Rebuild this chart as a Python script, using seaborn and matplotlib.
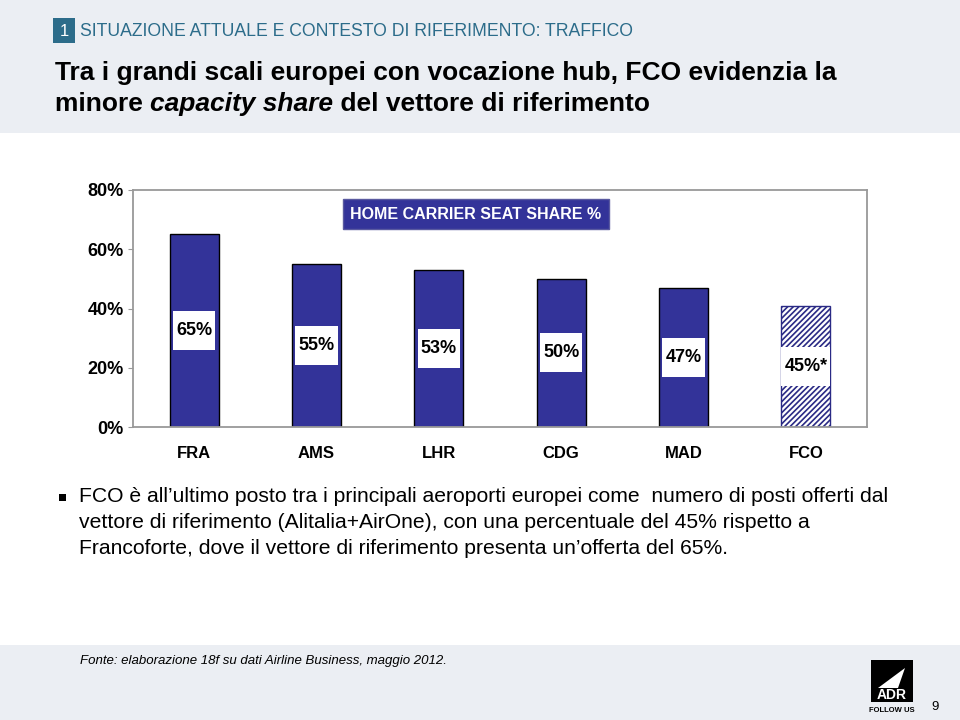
import numpy as np
import pandas as pd
import matplotlib.pyplot as plt
import seaborn as sns
from matplotlib.patches import Rectangle, Polygon

airports = ["FRA", "AMS", "LHR", "CDG", "MAD", "FCO"]
# bar heights (FCO bar is drawn shorter than its 45% label)
shares = [65, 55, 53, 50, 47, 41]
bar_labels = ["65%", "55%", "53%", "50%", "47%", "45%*"]
y_ticks = [0, 20, 40, 60, 80]
y_tick_labels = ["0%", "20%", "40%", "60%", "80%"]

blue = "#333399"
teal = "#2c6c8a"
band = "#ebeef3"

sns.set_style("white")
plt.rcParams["font.family"] = ["Liberation Sans", "DejaVu Sans"]
plt.rcParams["hatch.linewidth"] = 1.2
plt.rcParams["text.color"] = "black"
plt.rcParams["xtick.color"] = "black"
plt.rcParams["ytick.color"] = "black"

fig = plt.figure(figsize=(9.6, 7.2), dpi=100)
W, H = 960, 720

def fx(x):
    return x / W

def fy(y):
    return 1 - y / H

# header / footer bands
fig.patches.append(Rectangle((0, fy(133)), 1, 133 / H, transform=fig.transFigure,
                             facecolor=band, edgecolor="none", zorder=0))
fig.patches.append(Rectangle((0, 0), 1, 75 / H, transform=fig.transFigure,
                             facecolor=band, edgecolor="none", zorder=0))

# section number + section header
fig.patches.append(Rectangle((fx(53), fy(43)), 22 / W, 25 / H, transform=fig.transFigure,
                             facecolor=teal, edgecolor="none"))
fig.text(fx(64), fy(31), "1", color="white", fontsize=12, ha="center", va="center")
fig.text(fx(80), fy(31), "SITUAZIONE ATTUALE E CONTESTO DI RIFERIMENTO: TRAFFICO",
         color=teal, fontsize=12.7, ha="left", va="center")

# main title
fig.text(fx(55), fy(73), "Tra i grandi scali europei con vocazione hub, FCO evidenzia la",
         fontsize=19, fontweight="bold", ha="left", va="center")
renderer = fig.canvas.get_renderer()
x_cursor = fx(55)
for piece, style in [("minore ", "normal"), ("capacity share", "italic"),
                     (" del vettore di riferimento", "normal")]:
    t = fig.text(x_cursor, fy(104), piece, fontsize=19, fontweight="bold",
                 fontstyle=style, ha="left", va="center")
    bb = t.get_window_extent(renderer=renderer)
    x_cursor += bb.width / W

# chart
ax = fig.add_axes([fx(133), fy(427), (867 - 133) / W, (427 - 190) / H])
df = pd.DataFrame({"airport": airports, "share": shares})
sns.barplot(data=df, x="airport", y="share", color=blue, saturation=1, width=0.4,
            edgecolor="black", linewidth=1, ax=ax, zorder=2)

fco = ax.patches[-1]
fco.set_facecolor("white")
fco.set_edgecolor("#2a2a85")
fco.set_hatch("//////")

ax.set_xlim(-0.5, len(airports) - 0.5)
ax.set_ylim(0, 80)
ax.set_yticks(y_ticks)
ax.set_yticklabels(y_tick_labels, fontsize=13, fontweight="bold")
ax.set_xticks(range(len(airports)))
ax.set_xticklabels(airports, fontsize=12, fontweight="bold")
ax.set_xticks(np.arange(-0.5, len(airports), 1), minor=True)
ax.tick_params(axis="x", which="major", length=0, pad=14)
ax.tick_params(axis="x", which="minor", length=6, color="#999999", direction="out")
ax.tick_params(axis="y", length=3.8, color="#999999", direction="out", pad=3, left=True)
ax.set_xlabel("")
ax.set_ylabel("")
for s in ax.spines.values():
    s.set_color("#999999")
    s.set_linewidth(1.3)

# white value boxes in the middle of each bar
fig.canvas.draw()
renderer = fig.canvas.get_renderer()
px_per_x = ax.get_window_extent().width / 6.0
px_per_y = ax.get_window_extent().height / 80.0
for i, (v, lab) in enumerate(zip(shares, bar_labels)):
    t = ax.text(i, v / 2, lab, ha="center", va="center", fontsize=13,
                fontweight="bold", color="black", zorder=4)
    tw = t.get_window_extent(renderer=renderer).width
    bw = max(41, tw + 6) / px_per_x
    bh = 39 / px_per_y
    ax.add_patch(Rectangle((i - bw / 2, v / 2 - bh / 2), bw, bh,
                           facecolor="white", edgecolor="none", zorder=3))

# chart title box
fig.text(fx(476), fy(214), "HOME CARRIER SEAT SHARE %", color="white", fontsize=11.5,
         fontweight="bold", ha="center", va="center",
         bbox=dict(boxstyle="square,pad=0.45", facecolor=blue, edgecolor="#5a5aa0"))

# bullet text
fig.patches.append(Rectangle((fx(59), fy(501)), 7 / W, 7 / H, transform=fig.transFigure,
                             facecolor="black", edgecolor="none"))
bullet_lines = [
    "FCO è all\u2019ultimo posto tra i principali aeroporti europei come  numero di posti offerti dal",
    "vettore di riferimento (Alitalia+AirOne), con una percentuale del 45% rispetto a",
    "Francoforte, dove il vettore di riferimento presenta un\u2019offerta del 65%.",
]
for k, line in enumerate(bullet_lines):
    fig.text(fx(79), fy(497 + 26 * k), line, fontsize=15.2, ha="left", va="center")

# footer
fig.text(fx(80), fy(661), "Fonte: elaborazione 18f su dati Airline Business, maggio 2012.",
         fontsize=9.5, fontstyle="italic", ha="left", va="center")
fig.patches.append(Rectangle((fx(871), fy(702)), 42 / W, 42 / H, transform=fig.transFigure,
                             facecolor="black", edgecolor="none"))
fig.patches.append(Polygon([(fx(878), fy(688)), (fx(905), fy(668)), (fx(898), fy(688))],
                           closed=True, transform=fig.transFigure,
                           facecolor="white", edgecolor="none"))
fig.text(fx(892), fy(695), "ADR", color="white", fontsize=10, fontweight="bold",
         ha="center", va="center")
fig.text(fx(892), fy(710), "FOLLOW US", color="black", fontsize=5.5, fontweight="bold",
         ha="center", va="center")
fig.text(fx(935), fy(707), "9", fontsize=9.5, ha="center", va="center")

fig.savefig("out.png", dpi=100)
